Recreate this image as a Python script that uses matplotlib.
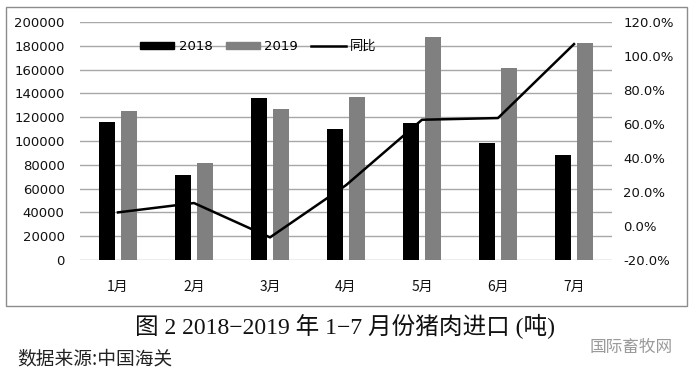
import matplotlib
matplotlib.use("Agg")
import matplotlib.pyplot as plt
import numpy as np
from matplotlib.patches import Rectangle, Patch
from matplotlib.lines import Line2D
from matplotlib.ticker import FuncFormatter

plt.rcParams['font.family'] = ['DejaVu Sans', 'Noto Sans CJK SC']

months = ["1月", "2月", "3月", "4月", "5月", "6月", "7月"]
imports_2018 = [116000, 71700, 135900, 110100, 115400, 98300, 88000]
imports_2019 = [125200, 81200, 126900, 136700, 187600, 161100, 182100]
yoy_pct = [8.0, 13.5, -6.7, 24.0, 62.5, 63.5, 107.0]

fig = plt.figure(figsize=(6.95, 3.77), dpi=100)
W, H = 695, 377
ax = fig.add_axes([80 / W, 1 - 260 / H, 532 / W, 238 / H])

x = np.arange(len(months))
bw = 0.215
ax.bar(x - 0.142, imports_2018, width=bw, color="#000000", zorder=3)
ax.bar(x + 0.142, imports_2019, width=bw, color="#808080", zorder=3)
ax.set_xlim(-0.5, len(months) - 0.5)
ax.set_ylim(0, 200000)
ax.set_yticks(np.arange(0, 200001, 20000))
ax.yaxis.grid(True, color="#a8a8a8", linewidth=1.0, zorder=0)
ax.set_axisbelow(True)
ax.set_xticks(x)
ax.set_xticklabels(months, fontsize=10, family=['Noto Sans CJK SC'])
for s in ax.spines.values():
    s.set_visible(False)
ax.tick_params(axis='both', length=0)
ax.tick_params(axis='y', labelsize=9.5, pad=11, colors="#111111")
ax.tick_params(axis='x', pad=14, colors="#111111")

ax2 = ax.twinx()
ax2.plot(x, yoy_pct, color="#000000", linewidth=1.8, zorder=4)
ax2.set_ylim(-20, 120)
ax2.set_yticks(np.arange(-20, 121, 20))
ax2.yaxis.set_major_formatter(FuncFormatter(lambda v, p: f"{v:.1f}%"))
for s in ax2.spines.values():
    s.set_visible(False)
ax2.tick_params(axis='y', length=0, labelsize=9.5, pad=8, colors="#111111")

handles = [Patch(color="#000000", label="2018"),
           Patch(color="#808080", label="2019"),
           Line2D([0], [0], color="#000000", linewidth=1.8, label="同比")]
ax.legend(handles=handles, loc="center", bbox_to_anchor=(0.335, 0.896), ncol=3,
          frameon=False, handlelength=2.6, handleheight=0.5,
          handletextpad=0.35, columnspacing=1.0,
          prop={'family': ['DejaVu Sans', 'Noto Sans CJK SC'], 'size': 9.5})

# outer border
fig.patches.append(Rectangle((6 / W, 1 - 306 / H), 681 / W, 299 / H,
                             transform=fig.transFigure, fill=False,
                             edgecolor="#8c8c8c", linewidth=1.0))

fig.text(345 / W, 1 - 327 / H, "图 2 2018−2019 年 1−7 月份猪肉进口 (吨)",
         ha="center", va="center", fontsize=17,
         family=['Liberation Serif', 'Noto Sans CJK SC'], color="#111111")
fig.text(17 / W, 1 - 359 / H, "数据来源:中国海关", ha="left", va="center",
         fontsize=13.5, family=['Noto Sans CJK SC'], color="#222222")
fig.text(673 / W, 1 - 347 / H, "国际畜牧网", ha="right", va="center",
         fontsize=12, family=['Noto Sans CJK SC'], color="#9a9a9a")

fig.savefig("out.png", dpi=100)
